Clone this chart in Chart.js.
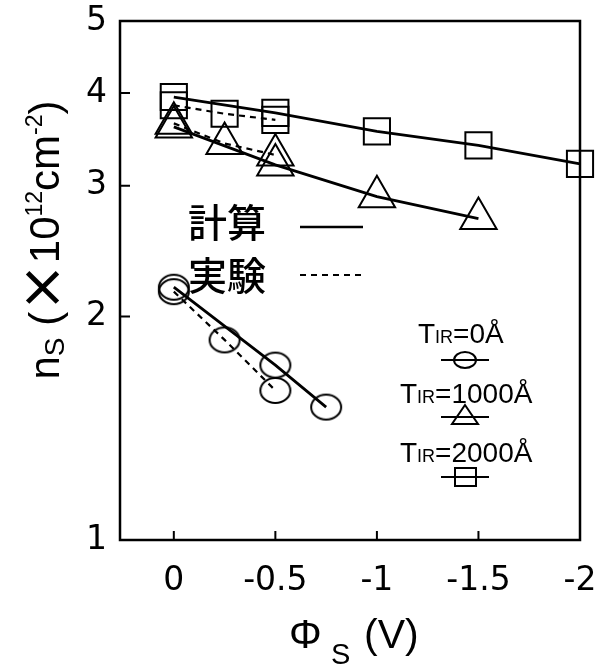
<!DOCTYPE html>
<html>
<head>
<meta charset="utf-8">
<script src="https://cdn.jsdelivr.net/npm/chart.js@4/dist/chart.umd.min.js"></script>
<style>
  html, body { margin: 0; padding: 0; background: #fff; }
  #wrap { width: 599px; height: 668px; }
</style>
</head>
<body>
<div id="wrap"><canvas id="chart"></canvas></div>
<script>
/* =====================
  Data
===================== */

// T_IR = 2000A  (squares)
var sqCalcX = [0, -0.5, -1, -1.5, -2];
var sqCalcY = [3.95, 3.76, 3.55, 3.40, 3.21];
var sqExpX = [0, -0.25, -0.5];
var sqExpY = [3.85, 3.75, 3.68];

// T_IR = 1000A  (triangles)
var triCalcX = [0, -0.5, -1, -1.5];
var triCalcY = [3.60, 3.20, 2.90, 2.71];
var triExpX = [0, -0.25, -0.5];
var triExpY = [3.64, 3.42, 3.30];

// T_IR = 0A  (circles)
var cirCalcX = [0, -0.5, -0.75];
var cirCalcY = [2.19, 1.72, 1.51];
var cirExpX = [0, -0.25, -0.5];
var cirExpY = [2.16, 1.86, 1.59];

var xTicks = [0, -0.5, -1, -1.5, -2];
var xTickLabels = ['0', '-0.5', '-1', '-1.5', '-2'];
var yTicks = [1, 2, 3, 4, 5];
var yTickLabels = ['1', '2', '3', '4', '5'];

var legendLabels = ['0', '1000', '2000'];
var calcLabel = '計算';
var expLabel = '実験';

/* =====================
  Helpers
===================== */

var toPoints = function(xs, ys) {
  return xs.map(function(x, i) { return {x: x, y: ys[i]}; });
};

// circles in the scan are a bit wider than tall
var makeEllipse = function(w, h, lw) {
  var c = document.createElement('canvas');
  c.width = w + lw * 2;
  c.height = h + lw * 2;
  var g = c.getContext('2d');
  g.lineWidth = lw;
  g.strokeStyle = '#000';
  g.beginPath();
  g.ellipse(c.width / 2, c.height / 2, w / 2, h / 2, 0, 0, Math.PI * 2);
  g.stroke();
  return c;
};
var ellipseBig = makeEllipse(30, 25, 2);

var series = function(xs, ys, style, radius, dashed) {
  return {
    data: toPoints(xs, ys),
    showLine: true,
    clip: false,
    borderColor: '#000',
    borderWidth: dashed ? 2.2 : 2.8,
    borderDash: dashed ? [6, 5] : [],
    pointStyle: style,
    pointRadius: radius,
    pointHoverRadius: radius,
    pointBorderColor: '#000',
    pointBorderWidth: 2,
    pointBackgroundColor: 'rgba(0,0,0,0)',
    tension: 0
  };
};

var noPadding = function() { return {left: 0, top: 0, right: 0, bottom: 0}; };

/* =====================
  Extra drawing: frame, inner ticks, titles, notes
===================== */

var decorPlugin = {
  id: 'decor',
  afterDraw: function(chart) {
    var ctx = chart.ctx;
    var a = chart.chartArea;
    var xs = chart.scales.x, ys = chart.scales.y;
    ctx.save();
    ctx.strokeStyle = '#000';
    ctx.fillStyle = '#000';

    // frame
    ctx.lineWidth = 2.5;
    ctx.strokeRect(a.left, a.top, a.right - a.left, a.bottom - a.top);

    // inner ticks
    ctx.lineWidth = 2;
    ctx.beginPath();
    [2, 3, 4].forEach(function(v) {
      var y = ys.getPixelForValue(v);
      ctx.moveTo(a.left, y); ctx.lineTo(a.left + 10, y);
    });
    [0, -0.5, -1, -1.5].forEach(function(v) {
      var x = xs.getPixelForValue(v);
      ctx.moveTo(x, a.bottom); ctx.lineTo(x, a.bottom - 9);
    });
    ctx.stroke();

    // x title: Phi_S (V)
    ctx.textBaseline = 'alphabetic';
    ctx.textAlign = 'left';
    ctx.font = '41px "Liberation Sans"';
    ctx.fillText('Φ', 289, 648);
    ctx.font = '29px "Liberation Sans"';
    ctx.fillText('S', 331, 664);
    ctx.font = '41px "Liberation Sans"';
    ctx.fillText('(V)', 364, 648);

    // y title: n_S (X10^12 cm^-2)
    var parts = [
      {t: 'n', f: '42px "Liberation Sans"', dy: 0},
      {t: 'S', f: '28px "Liberation Sans"', dy: 5},
      {t: ' (', f: '42px "Liberation Sans"', dy: 0},
      {t: '×', f: '58px "DejaVu Sans"', dy: 2},
      {t: '10', f: '42px "Liberation Sans"', dy: 0},
      {t: '12', f: '23px "Liberation Sans"', dy: -17},
      {t: 'cm', f: '42px "Liberation Sans"', dy: 0},
      {t: '-2', f: '23px "Liberation Sans"', dy: -17},
      {t: ')', f: '42px "Liberation Sans"', dy: 0}
    ];
    var total = 0;
    parts.forEach(function(p) { ctx.font = p.f; p.w = ctx.measureText(p.t).width; total += p.w; });
    ctx.translate(59, 240);
    ctx.rotate(-Math.PI / 2);
    var cx = -total / 2;
    parts.forEach(function(p) {
      ctx.font = p.f;
      ctx.fillText(p.t, cx, p.dy);
      cx += p.w;
    });
    ctx.setTransform(1, 0, 0, 1, 0, 0);

    // calc / exp notes
    ctx.font = '500 39px "Noto Sans CJK JP"';
    ctx.textBaseline = 'middle';
    ctx.fillText(calcLabel, 188, 222);
    ctx.fillText(expLabel, 188, 275);
    ctx.lineWidth = 2.5;
    ctx.beginPath();
    ctx.moveTo(300, 227); ctx.lineTo(363, 227);
    ctx.stroke();
    ctx.lineWidth = 2;
    ctx.setLineDash([6, 5]);
    ctx.beginPath();
    ctx.moveTo(300, 275); ctx.lineTo(363, 275);
    ctx.stroke();
    ctx.setLineDash([]);

    // T_IR key
    var keyRows = [
      {base: 343, left: 418, sym: 'circle', sy: 360},
      {base: 403, left: 400, sym: 'triangle', sy: 417},
      {base: 462, left: 400, sym: 'rect', sy: 477}
    ];
    ctx.textBaseline = 'alphabetic';
    keyRows.forEach(function(r, i) {
      var x = r.left;
      ctx.font = '28px "Liberation Sans"';
      ctx.fillText('T', x, r.base); x += ctx.measureText('T').width;
      ctx.font = '18px "Liberation Sans"';
      ctx.fillText('IR', x, r.base); x += ctx.measureText('IR').width;
      ctx.font = '28px "Liberation Sans"';
      ctx.fillText('=' + legendLabels[i] + 'Å', x, r.base);

      var mx = 465;
      ctx.lineWidth = 2;
      ctx.beginPath();
      ctx.moveTo(mx - 24, r.sy); ctx.lineTo(mx + 24, r.sy);
      ctx.stroke();
      ctx.beginPath();
      if (r.sym === 'circle') {
        ctx.ellipse(mx, r.sy, 11, 8, 0, 0, Math.PI * 2);
      } else if (r.sym === 'triangle') {
        ctx.moveTo(mx, r.sy - 12); ctx.lineTo(mx + 13, r.sy + 7); ctx.lineTo(mx - 13, r.sy + 7); ctx.closePath();
      } else {
        ctx.rect(mx - 10, r.sy - 9, 21, 18);
      }
      ctx.stroke();
    });

    ctx.restore();
  }
};

/* =====================
  Chart
===================== */

var ctx1 = document.getElementById('chart').getContext('2d');

var tickFont = { family: 'DejaVu Sans', size: 33 };

var myChart = new Chart(ctx1, {
  type: 'scatter',
  data: {
    datasets: [
      series(sqCalcX, sqCalcY, 'rect', 18.5, false),
      series(sqExpX, sqExpY, 'rect', 18.5, true),
      series(triCalcX, triCalcY, 'triangle', 21, false),
      series(triExpX, triExpY, 'triangle', 21, true),
      series(cirCalcX, cirCalcY, ellipseBig, 15, false),
      series(cirExpX, cirExpY, ellipseBig, 15, true)
    ]
  },
  options: {
    responsive: true,
    maintainAspectRatio: false,
    animation: false,
    events: [],
    layout: { autoPadding: false, padding: { left: 0, right: 19, top: 21, bottom: 0 } },
    plugins: { legend: { display: false }, tooltip: { enabled: false } },
    scales: {
      x: {
        type: 'linear',
        reverse: true,
        min: -2,
        max: 0.265,
        afterBuildTicks: function(scale) {
          scale.ticks = xTicks.map(function(v) { return {value: v}; });
        },
        afterFit: function(scale) {
          scale.height = 128;
          scale.paddingLeft = 0;
          scale.paddingRight = 0;
          scale.getPadding = noPadding;
        },
        grid: { display: false, drawTicks: false },
        border: { display: false },
        ticks: {
          color: '#000',
          padding: 22,
          maxRotation: 0,
          autoSkip: false,
          font: tickFont,
          callback: function(v) { return xTickLabels[xTicks.indexOf(v)]; }
        }
      },
      y: {
        type: 'logarithmic',
        min: 1,
        max: 5,
        afterBuildTicks: function(scale) {
          scale.ticks = yTicks.map(function(v) { return {value: v}; });
        },
        afterFit: function(scale) {
          scale.width = 120;
          scale.paddingTop = 0;
          scale.paddingBottom = 0;
          scale.getPadding = noPadding;
        },
        grid: { display: false, drawTicks: false },
        border: { display: false },
        ticks: {
          color: '#000',
          padding: 13,
          autoSkip: false,
          font: tickFont,
          callback: function(v) { return yTickLabels[yTicks.indexOf(v)]; }
        }
      }
    }
  },
  plugins: [decorPlugin]
});
</script>
</body>
</html>
